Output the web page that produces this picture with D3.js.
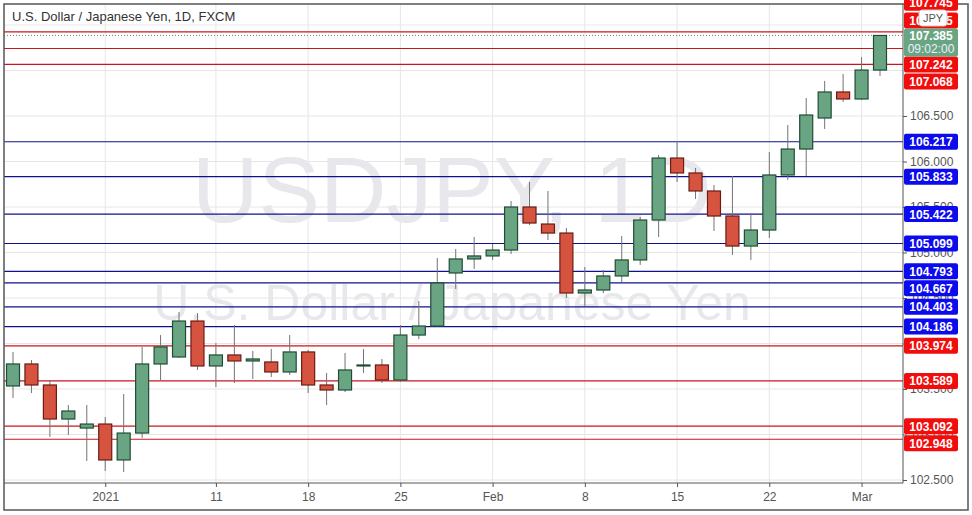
<!DOCTYPE html>
<html>
<head>
<meta charset="utf-8">
<script src="https://cdn.jsdelivr.net/npm/d3@7"></script>
<style>
  body { margin: 0; background: #fff; }
  svg { display: block; font-family: "Liberation Sans", Arial, sans-serif; }
</style>
</head>
<body>
<div id="chart"></div>
<script>
// daily candles (trading days)
const dates = ["Dec 24","Dec 25","Dec 28","Dec 29","Dec 30","Dec 31","Jan 1","Jan 4","Jan 5","Jan 6",
  "Jan 7","Jan 8","Jan 11","Jan 12","Jan 13","Jan 14","Jan 15","Jan 18","Jan 19","Jan 20",
  "Jan 21","Jan 22","Jan 25","Jan 26","Jan 27","Jan 28","Jan 29","Feb 1","Feb 2","Feb 3",
  "Feb 4","Feb 5","Feb 8","Feb 9","Feb 10","Feb 11","Feb 12","Feb 15","Feb 16","Feb 17",
  "Feb 18","Feb 19","Feb 22","Feb 23","Feb 24","Feb 25","Feb 26","Mar 1"];
const opens  = [103.533,103.775,103.544,103.170,103.071,103.115,102.720,103.016,103.775,103.852,
  104.247,103.753,103.874,103.808,103.797,103.687,103.907,103.544,103.489,103.764,
  103.764,103.599,104.093,104.192,104.775,104.929,104.962,105.027,105.500,105.313,
  105.214,104.555,104.588,104.742,104.918,105.357,106.038,105.874,105.676,105.401,
  105.071,105.247,105.852,106.137,106.478,106.764,106.687,107.005];
const highs  = [103.907,103.819,103.599,103.324,103.324,103.192,103.445,103.962,104.093,104.346,
  104.335,104.005,104.203,103.918,103.940,104.093,103.929,103.676,103.896,103.940,
  103.830,104.203,104.467,104.940,105.038,105.170,105.093,105.566,105.775,105.676,
  105.269,104.841,104.808,105.181,105.390,106.071,106.225,105.929,105.742,105.841,
  105.434,106.104,106.401,106.698,106.885,106.962,107.148,107.390];
const lows   = [103.401,103.456,102.973,102.995,102.709,102.599,102.588,102.962,103.599,103.841,
  103.709,103.522,103.566,103.610,103.632,103.654,103.456,103.324,103.467,103.676,
  103.566,103.577,104.049,104.181,104.599,104.819,104.918,104.984,105.302,105.137,
  104.500,104.412,104.555,104.676,104.863,105.170,105.775,105.588,105.236,104.973,
  104.918,105.159,105.797,105.841,106.357,106.654,106.676,106.940];
const closes = [103.775,103.544,103.170,103.258,103.115,102.720,103.016,103.775,103.962,104.247,
  103.753,103.874,103.808,103.830,103.687,103.907,103.544,103.489,103.709,103.764,
  103.599,104.093,104.192,104.665,104.929,104.962,105.027,105.500,105.324,105.214,
  104.555,104.588,104.742,104.918,105.357,106.038,105.874,105.676,105.401,105.071,
  105.247,105.852,106.137,106.511,106.764,106.687,107.005,107.385];

const xTickDates  = ["Dec 31","Jan 8","Jan 15","Jan 22","Jan 29","Feb 5","Feb 12","Feb 19","Feb 26"];
const xTickLabels = ["2021","11","18","25","Feb","8","15","22","Mar"];
const yTicks = [102.5,103,103.5,104,104.5,105,105.5,106,106.5,107,107.5];

const redLevels  = [107.745,107.425,107.242,107.068,103.974,103.589,103.092,102.948];
const blueLevels = [106.217,105.833,105.422,105.099,104.793,104.667,104.403,104.186];
const lastPrice = 107.385, lastTime = "09:02:00";

const W = 972, H = 515;
const pL = 4, pR = 903, pT = 4, pB = 483;

const svg = d3.select("#chart").append("svg").attr("width", W).attr("height", H);

const x = d3.scalePoint().domain(dates).range([13, 880]);
const y = d3.scaleLinear().domain([102.5, 106.5]).range([480, 116]);

svg.append("defs").append("clipPath").attr("id", "plot")
  .append("rect").attr("x", pL).attr("y", pT).attr("width", pR - pL).attr("height", pB - pT);

const plot = svg.append("g").attr("clip-path", "url(#plot)");

// grid
plot.selectAll("line.hg").data(yTicks).join("line")
  .attr("x1", pL).attr("x2", pR)
  .attr("y1", d => y(d)).attr("y2", d => y(d))
  .attr("stroke", "#e6e6e6");
plot.selectAll("line.vg").data(xTickDates).join("line")
  .attr("y1", pT).attr("y2", pB)
  .attr("x1", d => x(d)).attr("x2", d => x(d))
  .attr("stroke", "#e6e6e6");

// watermark
plot.append("text").attr("x", 452).attr("y", 222).attr("text-anchor", "middle")
  .attr("font-size", 92).attr("fill", "#e8e8ec").text("USDJPY, 1D");
plot.append("text").attr("x", 452).attr("y", 320).attr("text-anchor", "middle")
  .attr("font-size", 50).attr("fill", "#e8e8ec").text("U.S. Dollar / Japanese Yen");

// level lines
plot.selectAll("line.red").data(redLevels).join("line")
  .attr("x1", pL).attr("x2", pR)
  .attr("y1", d => y(d)).attr("y2", d => y(d))
  .attr("stroke", "#c8161d").attr("stroke-width", 1.2);
plot.selectAll("line.blue").data(blueLevels).join("line")
  .attr("x1", pL).attr("x2", pR)
  .attr("y1", d => y(d)).attr("y2", d => y(d))
  .attr("stroke", "#101090").attr("stroke-width", 1.2);
plot.append("line").attr("x1", pL).attr("x2", pR)
  .attr("y1", y(lastPrice)).attr("y2", y(lastPrice))
  .attr("stroke", "#5a8a70").attr("stroke-dasharray", "1,2");

// candles
const candles = dates.map((d, i) => ({ d, o: opens[i], h: highs[i], l: lows[i], c: closes[i] }));
const bw = 13;
const cg = plot.selectAll("g.candle").data(candles).join("g");
cg.append("line")
  .attr("x1", d => x(d.d)).attr("x2", d => x(d.d))
  .attr("y1", d => y(d.h)).attr("y2", d => y(d.l))
  .attr("stroke", "#737373");
cg.append("rect")
  .attr("x", d => x(d.d) - bw / 2).attr("width", bw)
  .attr("y", d => y(Math.max(d.o, d.c)))
  .attr("height", d => Math.max(1, Math.abs(y(d.o) - y(d.c))))
  .attr("fill", d => d.c >= d.o ? "#6aa583" : "#d6543f")
  .attr("stroke", d => d.c >= d.o ? "#1f4d33" : "#6a1b14")
  .attr("stroke-width", 1.2);

// frame and axes
svg.append("rect").attr("x", pL).attr("y", pT).attr("width", W - 8).attr("height", H - 9)
  .attr("fill", "none").attr("stroke", "#555").attr("stroke-width", 1.5);
svg.append("line").attr("x1", pR).attr("x2", pR).attr("y1", pT).attr("y2", pB)
  .attr("stroke", "#555");
svg.append("line").attr("x1", pL).attr("x2", pR).attr("y1", pB).attr("y2", pB)
  .attr("stroke", "#555");

const yAxis = d3.axisRight(y).tickValues(yTicks.filter(v => v < 107)).tickFormat(d3.format(".3f")).tickSize(4);
svg.append("g").attr("transform", `translate(${pR},0)`).call(yAxis)
  .call(g => g.select(".domain").remove())
  .call(g => g.selectAll("line").attr("stroke", "#555"))
  .call(g => g.selectAll("text").attr("fill", "#555").attr("font-size", 12).attr("font-family", "Liberation Sans, Arial"));

const xAxis = d3.axisBottom(x).tickValues(xTickDates)
  .tickFormat((d, i) => xTickLabels[i]).tickSize(4);
svg.append("g").attr("transform", `translate(0,${pB})`).call(xAxis)
  .call(g => g.select(".domain").remove())
  .call(g => g.selectAll("line").attr("stroke", "#555"))
  .call(g => g.selectAll("text").attr("fill", "#555").attr("font-size", 12).attr("dy", "0.9em").attr("font-family", "Liberation Sans, Arial"));

// price labels on axis, pushed apart around the last price box
const pY = y(lastPrice);
const boxTop = pY - 7, boxBot = pY + 21;
const labels = redLevels.map(v => ({ v, col: "#f20d0d" }))
  .concat(blueLevels.map(v => ({ v, col: "#0b0bee" })))
  .sort((a, b) => b.v - a.v);
let prevAbove = boxTop - 8 + 16, prevBelow = boxBot + 8 - 17;
labels.filter(l => l.v > lastPrice).sort((a, b) => a.v - b.v).forEach(l => {
  l.cy = Math.min(y(l.v), prevAbove - 16); prevAbove = l.cy;
});
labels.filter(l => l.v < lastPrice).forEach(l => {
  l.cy = Math.max(y(l.v), prevBelow + 17); prevBelow = l.cy;
});
const lg = svg.selectAll("g.lab").data(labels).join("g")
  .attr("transform", d => `translate(${pR + 1},${d.cy})`);
lg.append("rect").attr("x", 0).attr("y", -8).attr("width", 54).attr("height", 16).attr("rx", 2)
  .attr("fill", d => d.col);
lg.append("text").attr("x", 27).attr("y", 4.5).attr("text-anchor", "middle")
  .attr("fill", "#fff").attr("font-size", 12).attr("font-weight", "bold").text(d => d.v.toFixed(3));

const pg = svg.append("g").attr("transform", `translate(${pR + 1},${boxTop})`);
pg.append("rect").attr("width", 54).attr("height", 28).attr("rx", 2).attr("fill", "#6aa583");
pg.append("text").attr("x", 27).attr("y", 12).attr("text-anchor", "middle").attr("fill", "#fff")
  .attr("font-size", 12).attr("font-weight", "bold").text(lastPrice.toFixed(3));
pg.append("text").attr("x", 27).attr("y", 25).attr("text-anchor", "middle").attr("fill", "#eef")
  .attr("font-size", 12).text(lastTime);

// JPY badge
const jb = svg.append("g").attr("transform", `translate(919,10)`);
jb.append("rect").attr("width", 28).attr("height", 16).attr("rx", 3).attr("fill", "#fff").attr("stroke", "#ccc");
jb.append("text").attr("x", 14).attr("y", 12).attr("text-anchor", "middle").attr("fill", "#555")
  .attr("font-size", 11).text("JPY");

// title
svg.append("text").attr("x", 12).attr("y", 21).attr("font-size", 13).attr("fill", "#333")
  .text("U.S. Dollar / Japanese Yen, 1D, FXCM");
</script>
</body>
</html>
